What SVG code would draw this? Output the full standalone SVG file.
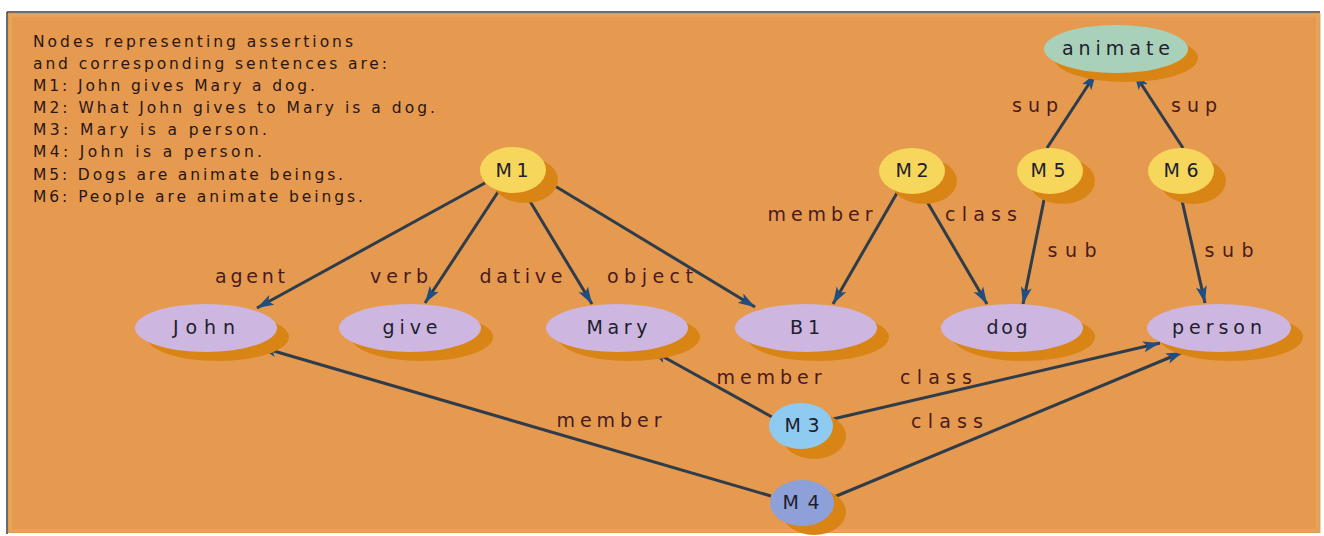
<svg xmlns="http://www.w3.org/2000/svg" width="1324" height="536" viewBox="0 0 1324 536">
<style>
.bg{fill:#E59A50}
.sh{fill:#D98516}
.lav{fill:#CDB6DF}
.yel{fill:#F7D65C}
.m3{fill:#8FCBF0}
.m4{fill:#8EA0D8}
.ani{fill:#A9D1BA}
.nt{font-family:"DejaVu Sans","Liberation Sans",sans-serif;font-size:19px;fill:#1E1E2E;text-anchor:middle}
.el{font-family:"DejaVu Sans","Liberation Sans",sans-serif;font-size:19px;fill:#4A1A1E;text-anchor:middle}
.info{font-family:"DejaVu Sans","Liberation Sans",sans-serif;font-size:15.5px;fill:#2A1616}
.edge line{stroke:#2F3C4A;stroke-width:3;marker-end:url(#ah)}
</style>
<defs>
<marker id="ah" markerUnits="userSpaceOnUse" markerWidth="18" markerHeight="12" refX="17" refY="6" orient="auto">
<path d="M0,0.5 L17,6 L0,11.5 L4,6 Z" fill="#1F4F82"/>
</marker>
</defs>
<rect x="0" y="0" width="1324" height="536" fill="#FFFFFF"/>
<rect class="bg" x="8" y="13" width="1312" height="520"/>
<rect x="10.5" y="15.5" width="1307" height="515" fill="none" stroke="#EBA860" stroke-width="3" opacity="0.6"/>
<line x1="7" y1="12" x2="1320" y2="12" stroke="#6E6E6E" stroke-width="2"/>
<line x1="7" y1="12" x2="7" y2="534" stroke="#3A3A3A" stroke-width="1.5"/>
<line x1="1320" y1="13" x2="1320" y2="533" stroke="#C9A98A" stroke-width="1"/>

<g id="info">
<text class="info" x="33" y="47" textLength="320" lengthAdjust="spacing">Nodes representing assertions</text>
<text class="info" x="33" y="69" textLength="354" lengthAdjust="spacing">and corresponding sentences are:</text>
<text class="info" x="33" y="91" textLength="282" lengthAdjust="spacing">M1: John gives Mary a dog.</text>
<text class="info" x="33" y="113" textLength="402" lengthAdjust="spacing">M2: What John gives to Mary is a dog.</text>
<text class="info" x="33" y="135" textLength="234" lengthAdjust="spacing">M3: Mary is a person.</text>
<text class="info" x="33" y="157" textLength="229" lengthAdjust="spacing">M4: John is a person.</text>
<text class="info" x="33" y="180" textLength="310" lengthAdjust="spacing">M5: Dogs are animate beings.</text>
<text class="info" x="33" y="202" textLength="330" lengthAdjust="spacing">M6: People are animate beings.</text>
</g>

<g id="connectors" class="edge">
<line x1="485" y1="183" x2="257" y2="308"/>
<line x1="498" y1="192" x2="425" y2="303"/>
<line x1="525" y1="193" x2="592" y2="304"/>
<line x1="545" y1="180" x2="755" y2="307"/>
<line x1="897" y1="193" x2="833" y2="304"/>
<line x1="922" y1="193" x2="987" y2="304"/>
<line x1="1045" y1="195" x2="1023" y2="304"/>
<line x1="1181" y1="196" x2="1205" y2="303"/>
<line x1="1047" y1="148" x2="1096" y2="73"/>
<line x1="1183" y1="148" x2="1134" y2="73"/>
<line x1="772" y1="417" x2="651" y2="350"/>
<line x1="833" y1="419" x2="1160" y2="343"/>
<line x1="771" y1="496" x2="260" y2="347"/>
<line x1="834" y1="497" x2="1183" y2="352"/>
</g>

<g id="edge-labels">
<text class="el" x="250" y="283" textLength="70" lengthAdjust="spacing">agent</text>
<text class="el" x="399" y="283" textLength="58" lengthAdjust="spacing">verb</text>
<text class="el" x="521" y="283" textLength="83" lengthAdjust="spacing">dative</text>
<text class="el" x="650" y="283" textLength="86" lengthAdjust="spacing">object</text>
<text class="el" x="820" y="221" textLength="105" lengthAdjust="spacing">member</text>
<text class="el" x="981" y="221" textLength="72" lengthAdjust="spacing">class</text>
<text class="el" x="1072" y="257" textLength="49" lengthAdjust="spacing">sub</text>
<text class="el" x="1229" y="257" textLength="49" lengthAdjust="spacing">sub</text>
<text class="el" x="1035" y="112" textLength="46" lengthAdjust="spacing">sup</text>
<text class="el" x="1194" y="112" textLength="46" lengthAdjust="spacing">sup</text>
<text class="el" x="769" y="384" textLength="105" lengthAdjust="spacing">member</text>
<text class="el" x="936" y="384" textLength="72" lengthAdjust="spacing">class</text>
<text class="el" x="609" y="427" textLength="105" lengthAdjust="spacing">member</text>
<text class="el" x="947" y="428" textLength="72" lengthAdjust="spacing">class</text>
</g>

<g id="animate"><ellipse class="sh" cx="1126" cy="58" rx="72" ry="24"/><ellipse class="ani" cx="1116" cy="49" rx="72" ry="24"/><text class="nt" x="1116" y="55" textLength="108" lengthAdjust="spacing">animate</text></g>
<g id="M1"><ellipse class="sh" cx="525" cy="180" rx="33" ry="23"/><ellipse class="yel" cx="513" cy="170" rx="33" ry="23"/><text class="nt" x="512" y="177" textLength="33" lengthAdjust="spacing">M1</text></g>
<g id="M2"><ellipse class="sh" cx="924" cy="181" rx="33" ry="23"/><ellipse class="yel" cx="912" cy="171" rx="33" ry="23"/><text class="nt" x="912" y="177" textLength="33" lengthAdjust="spacing">M2</text></g>
<g id="M5"><ellipse class="sh" cx="1062" cy="181" rx="33" ry="23"/><ellipse class="yel" cx="1050" cy="171" rx="33" ry="23"/><text class="nt" x="1048" y="177" textLength="35" lengthAdjust="spacing">M5</text></g>
<g id="M6"><ellipse class="sh" cx="1193" cy="181" rx="33" ry="23"/><ellipse class="yel" cx="1181" cy="171" rx="33" ry="23"/><text class="nt" x="1181" y="177" textLength="35" lengthAdjust="spacing">M6</text></g>
<g id="John"><ellipse class="sh" cx="218" cy="337" rx="71" ry="24"/><ellipse class="lav" cx="206" cy="328" rx="71" ry="24"/><text class="nt" x="204" y="334" textLength="62" lengthAdjust="spacing">John</text></g>
<g id="give"><ellipse class="sh" cx="422" cy="337" rx="71" ry="24"/><ellipse class="lav" cx="410" cy="328" rx="71" ry="24"/><text class="nt" x="410" y="334" textLength="55" lengthAdjust="spacing">give</text></g>
<g id="Mary"><ellipse class="sh" cx="629" cy="337" rx="71" ry="24"/><ellipse class="lav" cx="617" cy="328" rx="71" ry="24"/><text class="nt" x="617" y="334" textLength="61" lengthAdjust="spacing">Mary</text></g>
<g id="B1"><ellipse class="sh" cx="818" cy="337" rx="71" ry="24"/><ellipse class="lav" cx="806" cy="328" rx="71" ry="24"/><text class="nt" x="805" y="334" textLength="30" lengthAdjust="spacing">B1</text></g>
<g id="dog"><ellipse class="sh" cx="1024" cy="337" rx="71" ry="24"/><ellipse class="lav" cx="1012" cy="328" rx="71" ry="24"/><text class="nt" x="1007" y="334" textLength="41" lengthAdjust="spacing">dog</text></g>
<g id="person"><ellipse class="sh" cx="1231" cy="337" rx="72" ry="24"/><ellipse class="lav" cx="1219" cy="328" rx="72" ry="24"/><text class="nt" x="1217" y="334" textLength="90" lengthAdjust="spacing">person</text></g>
<g id="M3"><ellipse class="sh" cx="814" cy="436" rx="32" ry="23"/><ellipse class="m3" cx="801" cy="426" rx="32" ry="23"/><text class="nt" x="802" y="432" textLength="35" lengthAdjust="spacing">M3</text></g>
<g id="M4"><ellipse class="sh" cx="814" cy="512" rx="32" ry="23"/><ellipse class="m4" cx="802" cy="503" rx="32" ry="23"/><text class="nt" x="801" y="509" textLength="37" lengthAdjust="spacing">M4</text></g>
</svg>
